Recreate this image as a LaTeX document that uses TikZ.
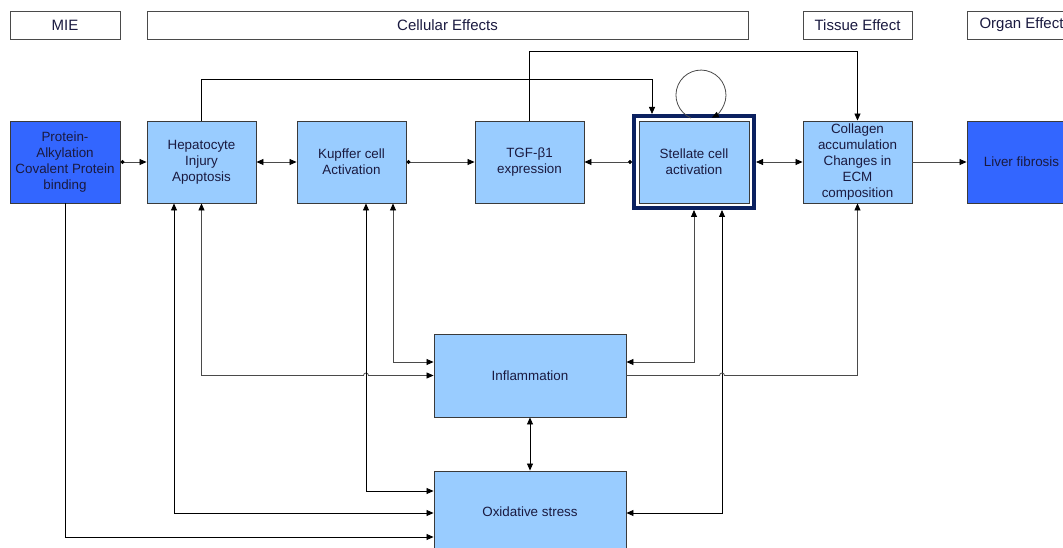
\documentclass[tikz,border=0pt]{standalone}
\usepackage{fontspec}
\setmainfont{Liberation Sans}
\usetikzlibrary{arrows.meta,calc}
\definecolor{lb}{HTML}{99CCFF}
\definecolor{db}{HTML}{3366FF}
\definecolor{navy}{HTML}{0B2160}
\definecolor{txt}{HTML}{1A1A40}
\definecolor{bord}{HTML}{3A3A3A}
\definecolor{lg}{HTML}{4A4A4A}
\tikzset{Dot/.tip={Circle[length=4pt,color=black]}}
\begin{document}
\begin{tikzpicture}[x=1pt,y=-1pt,
  >={Triangle[length=7pt,width=6pt,color=black]},
  every node/.style={font=\fontsize{13.4}{16}\selectfont, text=txt, align=center, inner sep=0pt},
  box/.style={draw=bord, line width=0.9pt, fill=lb, minimum width=109pt, minimum height=82pt},
  dbox/.style={box, fill=db},
  hdr/.style={draw=lg, line width=0.9pt, fill=white, minimum height=28pt, font=\fontsize{15}{18}\selectfont},
  conn/.style={draw=black, line width=0.8pt},
  conng/.style={draw=lg, line width=0.8pt},
]
\useasboundingbox (0,0) rectangle (1063,548);
\fill[white] (0,0) rectangle (1063,548);
\clip (0,0) rectangle (1063,548);

% header row
\node[hdr, minimum width=110pt] (mie) at (65,25) {MIE};
\node[hdr, minimum width=601pt] (cell) at (447.5,25) {Cellular Effects};
\node[hdr, minimum width=109pt] (tis) at (857.5,25) {Tissue Effect};
\node[hdr, minimum width=109pt] (org) at (1021.5,25) {Organ Effect};

% main row
\node[dbox, minimum width=110pt] (prot) at (65,162) {Protein-\\Alkylation\\Covalent Protein\\binding};
\node[box] (hep) at (201.5,162) {Hepatocyte\\Injury\\Apoptosis};
\node[box] (kup) at (351.5,162) {Kupffer cell\\Activation};
\node[box] (tgf) at (529.5,162) {TGF-β1\\expression};
\node[draw=navy, line width=4pt, fill=white, minimum width=120pt, minimum height=92pt] (stf) at (694,162) {};
\node[box, minimum width=110pt] (stel) at (694,162) {Stellate cell\\activation};
\node[box] (col) at (857.5,162) {Collagen\\accumulation\\Changes in\\ECM\\composition};
\node[dbox] (liv) at (1021.5,162) {Liver fibrosis};

% lower boxes
\node[box, minimum width=192pt, minimum height=83pt] (infl) at (530,375.5) {Inflammation};
\node[box, minimum width=192pt] (oxi) at (530,512) {Oxidative stress};

% helper coordinates
\coordinate (kx) at ([shift={(14.5,0)}]kup.south);
\coordinate (sx) at ([shift={(28,0)}]stf.south);

% main row connectors
\draw[conng, Dot->] (prot.east) -- (hep.west);
\draw[conng, <->] (hep.east) -- (kup.west);
\draw[conng, Dot->] (kup.east) -- (tgf.west);
\draw[conng, Dot->] (stf.west) -- (tgf.east);
\draw[conng, <->] (stf.east) -- (col.west);
\draw[conng, ->] (col.east) -- (liv.west);

% top routes
\draw[conn, ->] (hep.north) -- ++(0,-41) -| ([shift={(-42,0)}]stf.north);
\draw[conn, ->] (tgf.north) -- ++(0,-69) -| (col.north);
\draw[conng, ->] ([shift={(-3,4)}]stf.north) arc[start angle=113.5, end angle=424.4, radius=25];

% lower routes
\draw[conn, <->] ([shift={(-27.5,0)}]hep.south) |- ([shift={(0,1)}]oxi.west);
\draw[conng, <->] (hep.south) |- ($(kx |- infl.west)+(-2.5,0)$) arc[start angle=180, end angle=360, radius=2.5] -- (infl.west);
\draw[conng, <->] ([shift={(41.5,0)}]kup.south) |- ([shift={(0,-13.5)}]infl.west);
\draw[conn, <->] (kx) |- ([shift={(0,-21)}]oxi.west);
\draw[conng, <->] (stf.south) |- ([shift={(0,-13.5)}]infl.east);
\draw[conn, <->] (sx) |- ([shift={(0,1)}]oxi.east);
\draw[conng, ->] (infl.east) -- ($(sx |- infl.east)+(-2.5,0)$) arc[start angle=180, end angle=360, radius=2.5] -| (col.south);
\draw[conn, <->] (infl.south) -- (oxi.north);
\draw[conn, ->] (prot.south) |- ([shift={(0,25)}]oxi.west);
\end{tikzpicture}
\end{document}
